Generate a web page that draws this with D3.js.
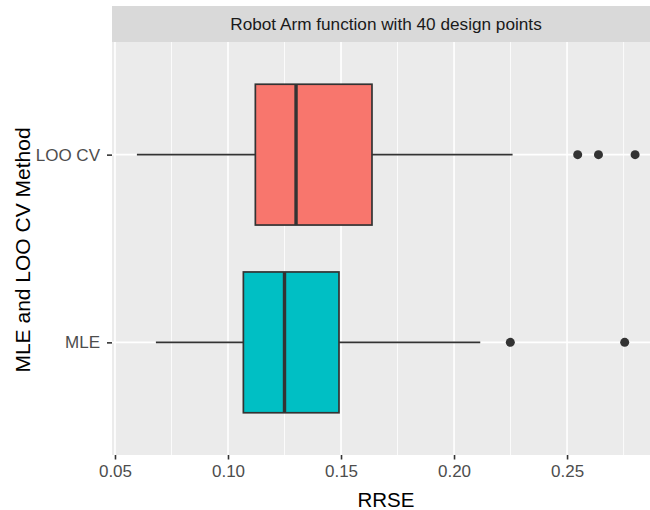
<!DOCTYPE html>
<html>
<head>
<meta charset="utf-8">
<script src="https://cdn.jsdelivr.net/npm/d3@7"></script>
<style>
  body { margin: 0; background: #fff; }
  svg { display: block; font-family: "Liberation Sans", Arial, sans-serif; }
</style>
</head>
<body>
<svg id="chart" width="650" height="510"></svg>
<script>
// box statistics
var methods = ["LOO CV", "MLE"];
var fills = ["#F8766D", "#00BFC4"];
var whiskerLow = [0.0597, 0.0681];
var q1 = [0.1121, 0.1068];
var medians = [0.1301, 0.1250];
var q3 = [0.1637, 0.1491];
var whiskerHigh = [0.2259, 0.2116];
var outliers = [[0.2547, 0.2639, 0.2801], [0.2249, 0.2755]];
var xTicks = [0.05, 0.10, 0.15, 0.20, 0.25];
var title = "Robot Arm function with 40 design points";

var svg = d3.select("#chart");
// panel edges (note: "top" is reserved on window, so use pTop)
var pLeft = 112, pRight = 660, pTop = 42, pBottom = 455;

var allVals = whiskerLow.concat(whiskerHigh, d3.merge(outliers));
var lo = d3.min(allVals), hi = d3.max(allVals), pad = (hi - lo) * 0.05;

var x = d3.scaleLinear().domain([lo - pad, hi + pad]).range([pLeft, pRight]);
var y = d3.scalePoint().domain(methods).range([pTop, pBottom]).padding(0.6);
var boxH = y.step() * 0.75;

// panel background
svg.append("rect")
    .attr("x", pLeft).attr("y", pTop)
    .attr("width", pRight - pLeft).attr("height", pBottom - pTop)
    .attr("fill", "#EBEBEB");

// minor grid
var minor = d3.range(0.075, hi + pad, 0.05);
svg.append("g").selectAll("line").data(minor).join("line")
    .attr("x1", d => x(d)).attr("x2", d => x(d))
    .attr("y1", pTop).attr("y2", pBottom)
    .attr("stroke", "#fff").attr("stroke-width", 0.8);

// major grid
svg.append("g").selectAll("line").data(xTicks).join("line")
    .attr("x1", d => x(d)).attr("x2", d => x(d))
    .attr("y1", pTop).attr("y2", pBottom)
    .attr("stroke", "#fff").attr("stroke-width", 1.6);
svg.append("g").selectAll("line").data(methods).join("line")
    .attr("x1", pLeft).attr("x2", pRight)
    .attr("y1", d => y(d)).attr("y2", d => y(d))
    .attr("stroke", "#fff").attr("stroke-width", 1.6);

// strip
svg.append("rect")
    .attr("x", pLeft).attr("y", 6)
    .attr("width", pRight - pLeft).attr("height", pTop - 6)
    .attr("fill", "#D9D9D9");
svg.append("text")
    .attr("x", 386).attr("y", 24)
    .attr("dy", "0.35em").attr("text-anchor", "middle")
    .attr("font-size", 17.2).attr("fill", "#1A1A1A")
    .text(title);

// boxes
var boxes = svg.append("g").selectAll("g").data(methods).join("g");

boxes.append("line")
    .attr("x1", (d, i) => x(whiskerLow[i])).attr("x2", (d, i) => x(q1[i]))
    .attr("y1", d => y(d)).attr("y2", d => y(d))
    .attr("stroke", "#333").attr("stroke-width", 1.7);
boxes.append("line")
    .attr("x1", (d, i) => x(q3[i])).attr("x2", (d, i) => x(whiskerHigh[i]))
    .attr("y1", d => y(d)).attr("y2", d => y(d))
    .attr("stroke", "#333").attr("stroke-width", 1.7);
boxes.append("rect")
    .attr("x", (d, i) => x(q1[i]))
    .attr("y", d => y(d) - boxH / 2)
    .attr("width", (d, i) => x(q3[i]) - x(q1[i]))
    .attr("height", boxH)
    .attr("fill", (d, i) => fills[i])
    .attr("stroke", "#333").attr("stroke-width", 1.7);
boxes.append("line")
    .attr("x1", (d, i) => x(medians[i])).attr("x2", (d, i) => x(medians[i]))
    .attr("y1", d => y(d) - boxH / 2).attr("y2", d => y(d) + boxH / 2)
    .attr("stroke", "#333").attr("stroke-width", 3.4);
boxes.each(function(d, i) {
    d3.select(this).selectAll("circle").data(outliers[i]).join("circle")
        .attr("cx", v => x(v)).attr("cy", y(d)).attr("r", 4.5)
        .attr("fill", "#333");
});

// x axis
var xAxis = svg.append("g")
    .attr("transform", "translate(0," + pBottom + ")")
    .call(d3.axisBottom(x).tickValues(xTicks).tickFormat(d3.format(".2f")).tickSize(4.5).tickPadding(5.7));
xAxis.select(".domain").remove();
xAxis.selectAll("line").attr("stroke", "#333").attr("stroke-width", 1.6);
xAxis.selectAll("text").attr("font-size", 17).attr("fill", "#4D4D4D")
    .attr("font-family", "Liberation Sans, Arial, sans-serif");

// y axis
var yAxis = svg.append("g")
    .attr("transform", "translate(" + pLeft + ",0)")
    .call(d3.axisLeft(y).tickSize(5).tickPadding(7));
yAxis.select(".domain").remove();
yAxis.selectAll("line").attr("stroke", "#333").attr("stroke-width", 1.6);
yAxis.selectAll("text").attr("font-size", 17).attr("fill", "#4D4D4D")
    .attr("font-family", "Liberation Sans, Arial, sans-serif");

// axis titles
svg.append("text")
    .attr("x", 386).attr("y", 506.5)
    .attr("text-anchor", "middle").attr("font-size", 20.5).attr("fill", "#000")
    .text("RRSE");
svg.append("text")
    .attr("transform", "translate(30,250) rotate(-90)")
    .attr("text-anchor", "middle").attr("font-size", 21).attr("fill", "#000")
    .text("MLE and LOO CV Method");
</script>
</body>
</html>
